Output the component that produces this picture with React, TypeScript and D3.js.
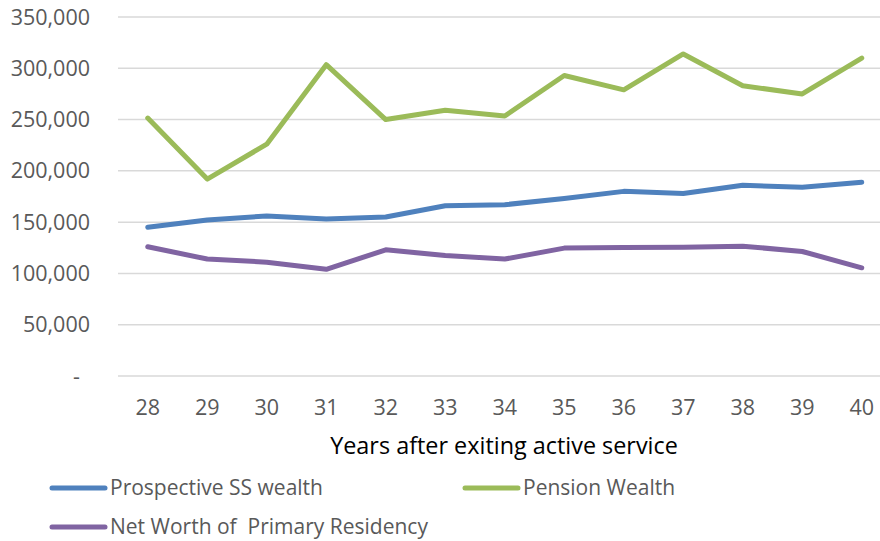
import React, { useEffect, useRef } from 'react';
import * as d3 from 'd3';

const years = ['28', '29', '30', '31', '32', '33', '34', '35', '36', '37', '38', '39', '40'];
const ssWealth = [145000, 152000, 156000, 153000, 155000, 166000, 167000, 173000, 180000, 178000, 186000, 184000, 189000];
const pensionWealth = [251500, 192000, 226000, 303500, 250000, 259000, 253500, 293000, 279000, 314000, 283000, 275000, 310000];
const netWorth = [126000, 114000, 111000, 104000, 123000, 117500, 114000, 124700, 125300, 125600, 126600, 121400, 105500];
const yTicks = [0, 50000, 100000, 150000, 200000, 250000, 300000, 350000];

const seriesNames = ['Prospective SS wealth', 'Pension Wealth', 'Net Worth of  Primary Residency'];
const seriesColors = ['#4F81BD', '#9BBB59', '#8064A2'];

const FONT = '"Open Sans", sans-serif';

export default function App() {
  const ref = useRef<SVGSVGElement>(null);

  useEffect(() => {
    const svg = d3.select(ref.current);
    svg.selectAll('*').remove();

    const left = 118, top = 17, bottom = 376;
    const step = 59.5;
    const x = d3.scaleBand<string>()
      .domain(years)
      .range([left, left + step * years.length]);
    const y = d3.scaleLinear().domain([0, 350000]).range([bottom, top]);

    // gridlines
    svg.append('g')
      .selectAll('line')
      .data(yTicks)
      .join('line')
      .attr('x1', left)
      .attr('x2', left + step * years.length)
      .attr('y1', d => y(d))
      .attr('y2', d => y(d))
      .attr('stroke', '#D9D9D9')
      .attr('stroke-width', 1.5);

    // y labels (zero shows as a dash, like Excel's accounting format)
    svg.append('g')
      .selectAll('text')
      .data(yTicks)
      .join('text')
      .attr('x', d => (d === 0 ? 80 : 90))
      .attr('y', d => y(d))
      .attr('dy', '0.35em')
      .attr('text-anchor', 'end')
      .attr('font-family', FONT)
      .attr('font-size', 21.5)
      .attr('fill', '#595959')
      .text(d => (d === 0 ? '-' : d3.format(',')(d)));

    // x labels
    svg.append('g')
      .selectAll('text')
      .data(years)
      .join('text')
      .attr('x', d => (x(d) as number) + x.bandwidth() / 2)
      .attr('y', 407)
      .attr('dy', '0.35em')
      .attr('text-anchor', 'middle')
      .attr('font-family', FONT)
      .attr('font-size', 21.5)
      .attr('fill', '#595959')
      .text(d => d);

    svg.append('text')
      .attr('x', 504)
      .attr('y', 446)
      .attr('dy', '0.35em')
      .attr('text-anchor', 'middle')
      .attr('font-family', FONT)
      .attr('font-size', 23.4)
      .attr('fill', '#000')
      .text('Years after exiting active service');

    const line = d3.line<number>()
      .x((_, i) => (x(years[i]) as number) + x.bandwidth() / 2)
      .y(d => y(d));

    const all = [ssWealth, pensionWealth, netWorth];
    all.forEach((vals, i) => {
      svg.append('path')
        .attr('d', line(vals))
        .attr('fill', 'none')
        .attr('stroke', seriesColors[i])
        .attr('stroke-width', 5)
        .attr('stroke-linejoin', 'round')
        .attr('stroke-linecap', 'round');
    });

    // legend
    const legendPos = [[52, 488], [465, 488], [52, 527]];
    seriesNames.forEach((name, i) => {
      const [lx, ly] = legendPos[i];
      svg.append('line')
        .attr('x1', lx)
        .attr('x2', lx + 53)
        .attr('y1', ly)
        .attr('y2', ly)
        .attr('stroke', seriesColors[i])
        .attr('stroke-width', 5)
        .attr('stroke-linecap', 'round');
      svg.append('text')
        .attr('x', lx + 58)
        .attr('y', ly)
        .attr('dy', '0.35em')
        .attr('font-family', FONT)
        .attr('font-size', 21)
        .attr('fill', '#595959')
        .style('white-space', 'pre')
        .text(name);
    });
  }, []);

  return (
    <svg ref={ref} width={880} height={541}
      style={{ position: 'absolute', left: 0, top: 0, background: '#fff' }} />
  );
}
